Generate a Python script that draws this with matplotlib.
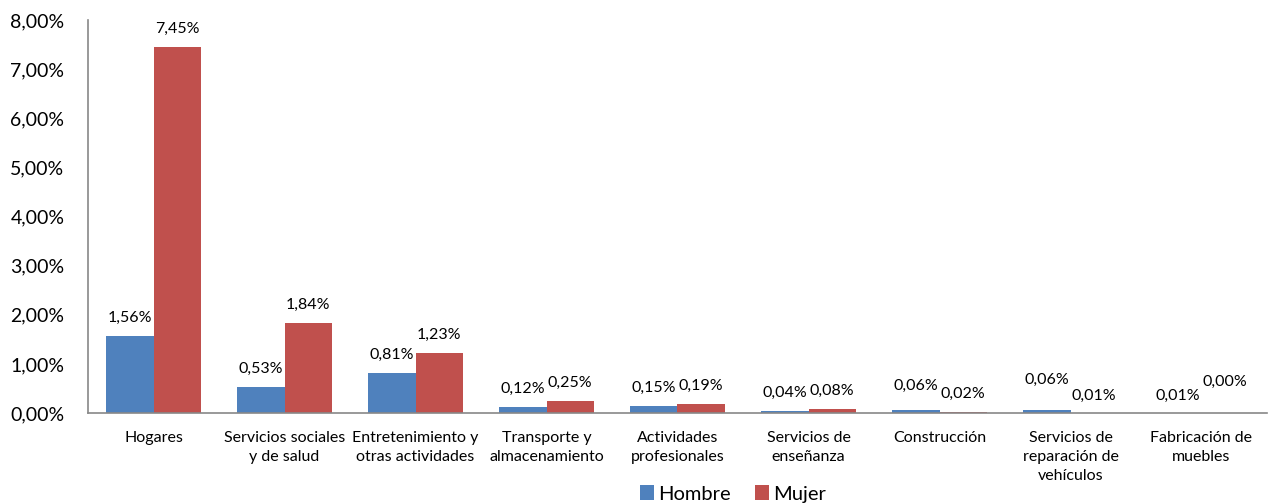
import matplotlib
matplotlib.use("Agg")
import matplotlib.pyplot as plt
import numpy as np
from matplotlib.ticker import FuncFormatter

categories = ["Hogares", "Servicios sociales\ny de salud", "Entretenimiento y\notras actividades",
              "Transporte y\nalmacenamiento", "Actividades\nprofesionales", "Servicios de\nenseñanza",
              "Construcción", "Servicios de\nreparación de\nvehículos", "Fabricación de\nmuebles"]
hombre = [1.56, 0.53, 0.81, 0.12, 0.15, 0.04, 0.06, 0.06, 0.01]
mujer = [7.45, 1.84, 1.23, 0.25, 0.19, 0.08, 0.02, 0.01, 0.00]
yticks = [0, 1, 2, 3, 4, 5, 6, 7, 8]

# label vertical offsets in points (styling to mimic label placement)
off_h = [8, 8, 8, 8, 8, 8, 12, 17, 7]
off_m = [8, 8, 8, 8, 8, 8, 8, 7, 17]

plt.rcParams['font.family'] = ['Lato', 'DejaVu Sans']

fig = plt.figure(figsize=(12.72, 5.04), dpi=100)
ax = fig.add_axes([88/1272, 91/504, (1267-88)/1272, (413-20)/504])

x = np.arange(len(categories))
w = 0.36
c_h = "#4F81BD"
c_m = "#C0504D"
bh = ax.bar(x - w/2, hombre, w, color=c_h, label="Hombre", zorder=2)
bm = ax.bar(x + w/2, mujer, w, color=c_m, label="Mujer", zorder=2)

fmt = lambda v: f"{v:.2f}".replace(".", ",") + "%"
for xi, v, o in zip(x - w/2, hombre, off_h):
    ax.annotate(fmt(v), (xi, v), xytext=(0, o), textcoords="offset points",
                ha="center", va="bottom", fontsize=11.5)
for xi, v, o in zip(x + w/2, mujer, off_m):
    ax.annotate(fmt(v), (xi, v), xytext=(0, o), textcoords="offset points",
                ha="center", va="bottom", fontsize=11.5)

ax.set_xlim(-0.5, len(categories) - 0.5)
ax.set_ylim(0, 8)
ax.set_yticks(yticks)
ax.yaxis.set_major_formatter(FuncFormatter(lambda v, p: f"{v:.2f}".replace(".", ",") + "%"))
ax.set_xticks(x)
ax.set_xticklabels(categories, fontsize=11.5, linespacing=1.45)
ax.tick_params(axis="y", length=0, labelsize=14, pad=17)
ax.tick_params(axis="x", length=0, pad=13)
for s in ["top", "right"]:
    ax.spines[s].set_visible(False)
for s in ["left", "bottom"]:
    ax.spines[s].set_color("#888888")
    ax.spines[s].set_linewidth(1.2)

fig.legend(handles=[bh, bm], labels=["Hombre", "Mujer"], loc="center",
           bbox_to_anchor=(733/1272, 1 - 494/504), ncol=2, frameon=False,
           fontsize=14.5, handlelength=0.7, handleheight=0.7, handletextpad=0.2,
           columnspacing=1.2)

fig.savefig("out.png", dpi=100)
